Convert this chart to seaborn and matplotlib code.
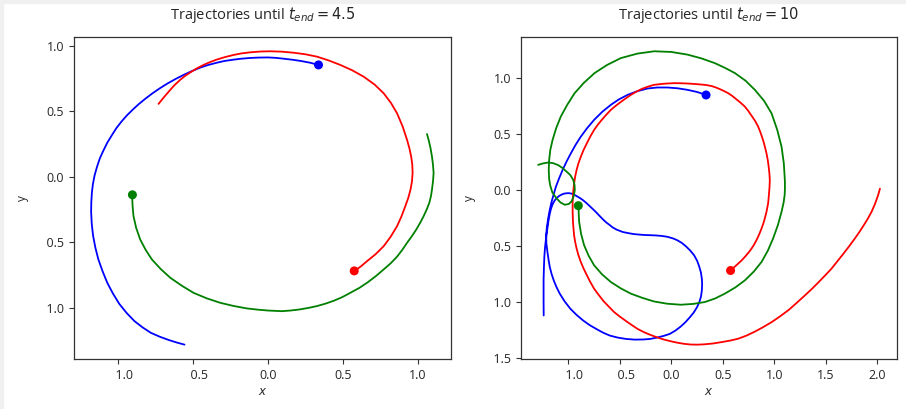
# Trajectories of three bodies
import numpy as np
import pandas as pd
import seaborn as sns
import matplotlib.pyplot as plt
from matplotlib.patches import Rectangle
from matplotlib.ticker import FuncFormatter

# --- starting positions (the dots) ---
start_x = [0.337, 0.575, -0.903]
start_y = [0.852, -0.718, -0.138]
body_colors = ["blue", "red", "green"]

# --- t_end = 4.5 ---
blue_45_x = [0.337, 0.28, 0.22, 0.16, 0.10, 0.05, 0.0, -0.06, -0.12, -0.18, -0.23, -0.29,
             -0.34, -0.40, -0.45, -0.505, -0.56, -0.615, -0.67, -0.72, -0.77, -0.815,
             -0.86, -0.90, -0.94, -0.976, -1.01, -1.04, -1.07, -1.096, -1.12, -1.139,
             -1.155, -1.166, -1.173, -1.177, -1.178, -1.174, -1.165, -1.15, -1.13, -1.102,
             -1.07, -1.032, -0.99, -0.942, -0.89, -0.836, -0.78, -0.72, -0.66, -0.61, -0.556]
blue_45_y = [0.852, 0.869, 0.882, 0.892, 0.90, 0.906, 0.909, 0.908, 0.905, 0.899, 0.892, 0.882,
             0.869, 0.851, 0.832, 0.806, 0.777, 0.745, 0.71, 0.674, 0.635, 0.596,
             0.554, 0.512, 0.467, 0.42, 0.37, 0.316, 0.26, 0.20, 0.14, 0.075,
             0.01, -0.055, -0.12, -0.195, -0.27, -0.36, -0.45, -0.54, -0.63, -0.72,
             -0.81, -0.892, -0.97, -1.038, -1.10, -1.148, -1.19, -1.22, -1.245, -1.263, -1.28]
red_45_x = [0.575, 0.62, 0.66, 0.718, 0.771, 0.818, 0.86, 0.89, 0.915, 0.935, 0.95, 0.96,
            0.964, 0.962, 0.955, 0.943, 0.927, 0.897, 0.86, 0.82, 0.771, 0.71, 0.637, 0.56,
            0.482, 0.405, 0.327, 0.25, 0.171, 0.093, 0.015, -0.05, -0.118, -0.175, -0.229,
            -0.285, -0.34, -0.385, -0.429, -0.47, -0.51, -0.55, -0.585, -0.625, -0.66,
            -0.695, -0.729]
red_45_y = [-0.72, -0.683, -0.644, -0.59, -0.53, -0.457, -0.378, -0.302, -0.226, -0.162,
            -0.099, -0.035, 0.028, 0.09, 0.15, 0.215, 0.281, 0.385, 0.484, 0.562, 0.636,
            0.703, 0.763, 0.812, 0.852, 0.886, 0.915, 0.933, 0.945, 0.953, 0.956, 0.954,
            0.948, 0.94, 0.928, 0.912, 0.893, 0.874, 0.852, 0.828, 0.80, 0.77, 0.738,
            0.695, 0.65, 0.603, 0.555]
green_45_x = [-0.905, -0.902, -0.896, -0.878, -0.851, -0.815, -0.773, -0.715, -0.651, -0.575,
              -0.496, -0.408, -0.318, -0.23, -0.14, -0.07, 0.0, 0.093, 0.15, 0.21, 0.27,
              0.327, 0.385, 0.44, 0.495, 0.549, 0.61, 0.665, 0.72, 0.771, 0.818, 0.86,
              0.895, 0.927, 0.96, 0.99, 1.015, 1.037, 1.058, 1.075, 1.086, 1.093, 1.1,
              1.104, 1.1, 1.093, 1.083, 1.072, 1.06]
green_45_y = [-0.139, -0.22, -0.30, -0.39, -0.479, -0.557, -0.631, -0.703, -0.77, -0.83,
              -0.885, -0.927, -0.961, -0.985, -1.004, -1.013, -1.02, -1.025, -1.02, -1.012,
              -1.0, -0.986, -0.967, -0.945, -0.918, -0.885, -0.847, -0.805, -0.757, -0.707,
              -0.66, -0.61, -0.558, -0.504, -0.452, -0.40, -0.35, -0.302, -0.25, -0.20,
              -0.15, -0.099, -0.035, 0.028, 0.09, 0.154, 0.22, 0.275, 0.325]

# --- t_end = 10 ---
blue_10_x = [0.336, 0.25, 0.157, 0.06, -0.037, -0.135, -0.231, -0.33, -0.425, -0.51, -0.587,
             -0.67, -0.75, -0.817, -0.879, -0.93, -0.976, -1.018, -1.056, -1.09, -1.121,
             -1.143, -1.163, -1.18, -1.195, -1.208, -1.215, -1.213, -1.203, -1.192, -1.18,
             -1.162, -1.14, -1.113, -1.083, -1.035, -0.98, -0.92, -0.856, -0.79, -0.72,
             -0.66, -0.597, -0.52, -0.44, -0.357, -0.274, -0.205, -0.14, -0.075, -0.015,
             0.04, 0.09, 0.137, 0.18, 0.218, 0.25, 0.272, 0.288, 0.297, 0.299, 0.296, 0.287,
             0.27, 0.25, 0.22, 0.18, 0.14, 0.1, 0.055, 0.017, -0.04, -0.1, -0.155, -0.209,
             -0.265, -0.32, -0.365, -0.403, -0.47, -0.532, -0.57, -0.60, -0.632, -0.662,
             -0.696, -0.73, -0.76, -0.791, -0.826, -0.86, -0.89, -0.92, -0.945, -0.97,
             -0.995, -1.017, -1.04, -1.06, -1.088, -1.114, -1.135, -1.152, -1.168, -1.18,
             -1.192, -1.203, -1.215, -1.226, -1.233, -1.237, -1.24, -1.24, -1.24, -1.239]
blue_10_y = [0.853, 0.879, 0.898, 0.912, 0.919, 0.919, 0.91, 0.886, 0.853, 0.812, 0.764,
             0.702, 0.629, 0.556, 0.479, 0.405, 0.329, 0.255, 0.18, 0.105, 0.03,
             -0.04, -0.105, -0.175, -0.25, -0.33, -0.40, -0.475, -0.55, -0.62, -0.686,
             -0.75, -0.81, -0.87, -0.925, -0.995, -1.06, -1.115, -1.165, -1.208, -1.245,
             -1.275, -1.30, -1.318, -1.33, -1.336, -1.335, -1.33, -1.318, -1.303, -1.285,
             -1.255, -1.22, -1.18, -1.136, -1.093, -1.045, -1.0, -0.95, -0.89, -0.836, -0.79,
             -0.735, -0.68, -0.63, -0.58, -0.536, -0.5, -0.47, -0.446, -0.431, -0.416, -0.408,
             -0.404, -0.402, -0.4, -0.396, -0.392, -0.386, -0.374, -0.352, -0.332, -0.31,
             -0.288, -0.262, -0.23, -0.197, -0.17, -0.143, -0.113, -0.087, -0.068, -0.052,
             -0.038, -0.03, -0.026, -0.027, -0.03, -0.037, -0.05, -0.07, -0.095, -0.125,
             -0.165, -0.21, -0.27, -0.34, -0.42, -0.51, -0.6, -0.7, -0.8, -0.9, -1.0, -1.12]
red_10_x = [0.575, 0.612, 0.649, 0.686, 0.72, 0.751, 0.779, 0.806, 0.83, 0.855, 0.876, 0.892,
            0.905, 0.924, 0.94, 0.947, 0.953, 0.956, 0.952, 0.945, 0.936, 0.924, 0.908, 0.89,
            0.868, 0.843, 0.813, 0.78, 0.748, 0.714, 0.672, 0.63, 0.592, 0.552, 0.51, 0.47,
            0.43, 0.39, 0.34, 0.286, 0.22, 0.15, 0.09, 0.027, -0.07, -0.167, -0.23, -0.29,
            -0.343, -0.393, -0.442, -0.49, -0.54, -0.587, -0.63, -0.67, -0.712, -0.75,
            -0.787, -0.82, -0.852, -0.879, -0.902, -0.92, -0.934, -0.944, -0.953, -0.958,
            -0.958, -0.955, -0.95, -0.944, -0.934, -0.92, -0.902, -0.879, -0.852, -0.82,
            -0.787, -0.75, -0.706, -0.66, -0.608, -0.555, -0.5, -0.44, -0.385, -0.328,
            -0.265, -0.2, -0.135, -0.07, 0.0, 0.06, 0.125, 0.189, 0.255, 0.325, 0.41, 0.49,
            0.57, 0.649, 0.73, 0.81, 0.89, 0.973, 1.057, 1.14, 1.22, 1.296, 1.365, 1.43,
            1.495, 1.555, 1.612, 1.67, 1.727, 1.782, 1.828, 1.87, 1.91, 1.944, 1.978, 2.008,
            2.025]
red_10_y = [-0.716, -0.687, -0.656, -0.624, -0.59, -0.556, -0.521, -0.482, -0.44, -0.39,
            -0.341, -0.3, -0.26, -0.192, -0.115, -0.042, 0.025, 0.09, 0.15, 0.21, 0.27,
            0.329, 0.39, 0.45, 0.51, 0.569, 0.62, 0.665, 0.708, 0.748, 0.783, 0.815, 0.843,
            0.868, 0.888, 0.905, 0.92, 0.932, 0.941, 0.946, 0.951, 0.955, 0.957, 0.958,
            0.953, 0.943, 0.926, 0.905, 0.88, 0.853, 0.822, 0.79, 0.755, 0.719, 0.677,
            0.635, 0.588, 0.539, 0.48, 0.42, 0.36, 0.299, 0.24, 0.18, 0.12, 0.059, -0.02,
            -0.105, -0.19, -0.28, -0.34, -0.402, -0.46, -0.52, -0.58, -0.641, -0.70, -0.76,
            -0.82, -0.88, -0.935, -0.99, -1.04, -1.09, -1.13, -1.17, -1.205, -1.24, -1.27,
            -1.295, -1.317, -1.336, -1.352, -1.364, -1.374, -1.38, -1.381, -1.378, -1.37,
            -1.358, -1.345, -1.328, -1.3, -1.265, -1.225, -1.18, -1.127, -1.07, -1.005,
            -0.941, -0.882, -0.822, -0.76, -0.701, -0.635, -0.568, -0.5, -0.431, -0.37,
            -0.31, -0.25, -0.192, -0.12, -0.042, 0.014]
green_10_x = [-0.901, -0.899, -0.895, -0.876, -0.847, -0.803, -0.75, -0.672, -0.587, -0.49,
              -0.393, -0.28, -0.167, -0.04, 0.092, 0.21, 0.325, 0.425, 0.519, 0.62, 0.714,
              0.8, 0.876, 0.937, 0.988, 1.035, 1.07, 1.09, 1.1, 1.103, 1.102, 1.092, 1.07,
              1.028, 0.973, 0.9, 0.811, 0.72, 0.617, 0.52, 0.422, 0.29, 0.157, 0.0, -0.167,
              -0.33, -0.49, -0.625, -0.745, -0.85, -0.939, -1.01, -1.073, -1.118, -1.153,
              -1.175, -1.186, -1.19, -1.186, -1.175, -1.155, -1.115, -1.075, -1.034, -0.995,
              -0.969, -0.948, -0.937, -0.94, -0.953, -0.98, -1.017, -1.058, -1.099, -1.15,
              -1.196, -1.245, -1.293]
green_10_y = [-0.138, -0.21, -0.282, -0.39, -0.491, -0.585, -0.671, -0.753, -0.821, -0.878,
              -0.925, -0.963, -0.995, -1.015, -1.024, -1.017, -1.0, -0.968, -0.925, -0.87,
              -0.806, -0.728, -0.641, -0.54, -0.431, -0.31, -0.192, -0.11, -0.042, 0.02,
              0.09, 0.24, 0.389, 0.54, 0.688, 0.8, 0.898, 0.98, 1.048, 1.095, 1.137, 1.18,
              1.213, 1.237, 1.243, 1.222, 1.182, 1.12, 1.048, 0.96, 0.868, 0.765, 0.659,
              0.555, 0.449, 0.36, 0.27, 0.182, 0.1, 0.04, -0.02, -0.072, -0.11, -0.13,
              -0.123, -0.1, -0.055, 0.003, 0.05, 0.093, 0.135, 0.167, 0.2, 0.225, 0.243,
              0.248, 0.24, 0.227]

panels = [
    ("4.5", [(blue_45_x, blue_45_y), (red_45_x, red_45_y), (green_45_x, green_45_y)]),
    ("10", [(blue_10_x, blue_10_y), (red_10_x, red_10_y), (green_10_x, green_10_y)]),
]


def tick_text(v, pos):
    # the reference shows negative ticks with a blank where the minus sign goes
    s = f"{abs(v):.1f}"
    return "\u2003" + s if v < -1e-9 else s


sns.set_style("ticks")
plt.rcParams["font.family"] = ["Open Sans", "DejaVu Sans"]
plt.rcParams["mathtext.fontset"] = "dejavusans"

fig = plt.figure(figsize=(9.06, 4.09), dpi=100)
# light grey strip of the notebook frame on the left and top
fig.patches.append(Rectangle((0, 0), 3 / 906, 1, transform=fig.transFigure,
                             color="#f0f0f0", zorder=-1))
fig.patches.append(Rectangle((0, 1 - 3 / 409), 1, 3 / 409, transform=fig.transFigure,
                             color="#f0f0f0", zorder=-1))

axes = [fig.add_axes([0.0817, 0.1215, 0.4158, 0.789]),
        fig.add_axes([0.5751, 0.1215, 0.4150, 0.789])]

for ax, (t_end, tracks) in zip(axes, panels):
    for (xs, ys), c in zip(tracks, body_colors):
        df = pd.DataFrame({"x": xs, "y": ys})
        sns.lineplot(data=df, x="x", y="y", sort=False, estimator=None,
                     color=c, linewidth=1.3, ax=ax)
    sns.scatterplot(x=start_x, y=start_y, hue=body_colors, palette=body_colors,
                    s=42, linewidth=0, legend=False, zorder=5, ax=ax)
    ax.set_title(r"Trajectories until $t_{end} = " + t_end + "$", fontsize=10.5, pad=13)
    ax.set_xlabel("$x$", fontsize=8.5, labelpad=2)
    ax.set_ylabel("y", fontsize=8.5)
    ax.xaxis.set_major_formatter(FuncFormatter(tick_text))
    ax.yaxis.set_major_formatter(FuncFormatter(tick_text))
    ax.tick_params(labelsize=9, length=3.5, width=0.8, colors="#333333",
                   labelcolor="#262626")
    for sp in ax.spines.values():
        sp.set_linewidth(0.9)
        sp.set_color("#333333")

fig.savefig("out.png", dpi=100)
